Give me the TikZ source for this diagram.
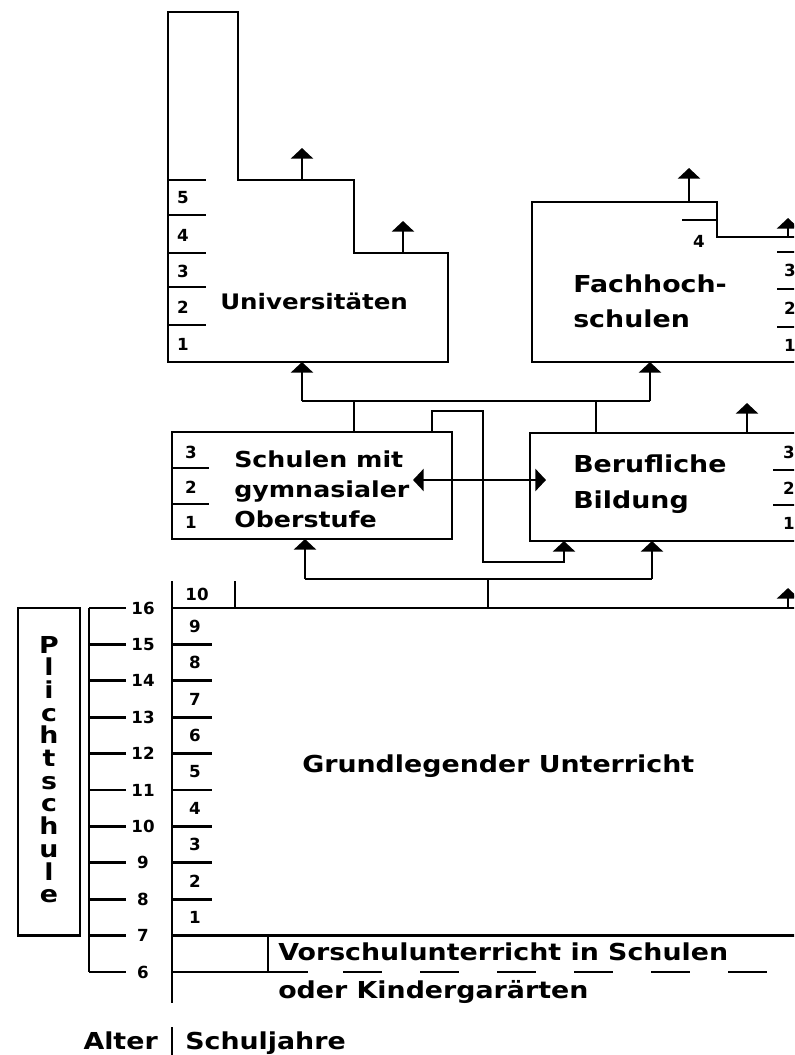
\documentclass[tikz,border=0pt]{standalone}
\usepackage{fontspec}
\newfontfamily\vb{DejaVu Sans Bold}[FakeStretch=1.15]
\newfontfamily\vd{DejaVu Sans Bold}
\usetikzlibrary{arrows.meta}
\begin{document}
\begin{tikzpicture}[x=0.75pt,y=-0.75pt,
  ln/.style={line width=2.2pt},
  arr/.style={line width=2.2pt,-{Triangle[width=16.5pt,length=8pt]}},
  dbl/.style={line width=2.2pt,{Triangle[width=16.5pt,length=8pt]}-{Triangle[width=16.5pt,length=8pt]}},
  lbl/.style={font=\vb\fontsize{17.5}{21}\selectfont,inner sep=0pt,anchor=base west},
  lbls/.style={font=\vb\fontsize{16.5}{20}\selectfont,inner sep=0pt,anchor=base west},
  num/.style={font=\vd\fontsize{12.5}{14}\selectfont,inner sep=0pt},
]
\useasboundingbox (0,0) rectangle (794,1055);
\clip (0,0) rectangle (794,1055);
\fill[white] (0,0) rectangle (794,1055);

% ---------- Universitaeten ----------
\draw[ln] (168,362) -- (168,12) -- (238,12) -- (238,180) -- (354,180) -- (354,253) -- (448,253) -- (448,362) -- cycle;
\foreach \y in {180,215,253,287,325} \draw[ln] (168,\y) -- (206,\y);
\foreach \n/\y in {5/198,4/235,3/271,2/307,1/344} \node[num] (u\n) at (183,\y) {\n};
\node[lbl,font=\vb\fontsize{16}{19}\selectfont] (uni) at (220,310) {Universitäten};
\coordinate (ua1) at (302,180); \coordinate (ua1t) at (302,148);
\coordinate (ua2) at (403,253); \coordinate (ua2t) at (403,221);
\draw[arr] (ua1) -- (ua1t);
\draw[arr] (ua2) -- (ua2t);

% ---------- Fachhochschulen ----------
\draw[ln] (800,237) -- (717,237) -- (717,202) -- (532,202) -- (532,362) -- (800,362);
\draw[ln] (682,220) -- (717,220);
\node[num] (f4) at (699,241) {4};
\foreach \y in {252,289,327} \draw[ln] (777,\y) -- (800,\y);
\foreach \n/\y in {3/270,2/308,1/345} \node[num] (f\n) at (790,\y) {\n};
\node[lbl] (fh1) at (573,292) {Fachhoch-};
\node[lbl] (fh2) at (573,327) {schulen};
\coordinate (fa1) at (689,202); \coordinate (fa1t) at (689,168);
\coordinate (fa2) at (788,237); \coordinate (fa2t) at (788,218);
\draw[arr] (fa1) -- (fa1t);
\draw[arr] (fa2) -- (fa2t);

% ---------- upper connector ----------
\coordinate (h1) at (302,401); \coordinate (h2) at (650,401);
\coordinate (ub) at (302,362); \coordinate (fb) at (650,362);
\draw[ln] (h1) -- (h2);
\draw[arr] (h1) -- (ub);
\draw[arr] (h2) -- (fb);
\draw[ln] (354,401) -- (354,432);
\draw[ln] (596,401) -- (596,433);

% ---------- Schulen mit gymnasialer Oberstufe ----------
\draw[ln] (172,432) rectangle (452,539);
\foreach \y in {468,504} \draw[ln] (172,\y) -- (209,\y);
\foreach \n/\y in {3/452,2/487,1/522} \node[num] (s\n) at (191,\y) {\n};
\node[lbls] (s1t) at (234,467) {Schulen mit};
\node[lbls] (s2t) at (234,497) {gymnasialer};
\node[lbls] (s3t) at (234,527) {Oberstufe};

% ---------- Berufliche Bildung ----------
\draw[ln] (800,433) -- (530,433) -- (530,541) -- (800,541);
\foreach \y in {470,505} \draw[ln] (773,\y) -- (800,\y);
\foreach \n/\y in {3/452,2/488,1/523} \node[num] (b\n) at (789,\y) {\n};
\node[lbl] (b1t) at (573,472) {Berufliche};
\node[lbl] (b2t) at (573,508) {Bildung};
\coordinate (ba) at (747,433); \coordinate (bat) at (747,403);
\draw[arr] (ba) -- (bat);

% ---------- middle connectors ----------
\draw[arr] (432,432) -- (432,411) -- (483,411) -- (483,562) -- (564,562) -- (564,541);
\coordinate (dl) at (413,480); \coordinate (dr) at (546,480);
\draw[dbl] (dl) -- (dr);
\coordinate (m1) at (305,579); \coordinate (m2) at (652,579);
\draw[ln] (m1) -- (m2);
\draw[arr] (m1) -- (305,539);
\draw[arr] (m2) -- (652,541);
\draw[ln] (488,579) -- (488,608);

% ---------- school years ----------
\draw[ln] (172,581) -- (172,1003);
\draw[ln] (235,581) -- (235,608);
\draw[ln] (172,608) -- (800,608);
\draw[arr] (788,608) -- (788,588);
\node[num] (y10) at (197,594) {10};
\foreach \k in {1,...,8} \draw[ln] (172,{608+36.4*\k}) -- (212,{608+36.4*\k});
\foreach \n in {1,...,9} \node[num] (y\n) at (195,{608+36.4*(9-\n)+18.2}) {\n};
\draw[ln] (172,935.6) -- (800,935.6);
\node[lbl] (gu) at (302,772) {Grundlegender Unterricht};

% ---------- Vorschule ----------
\draw[ln] (268,935.6) -- (268,972);
\draw[ln] (172,972) -- (308,972);
\draw[line width=2.2pt,dash pattern=on 29.25pt off 28.5pt] (343,972) -- (767,972);
\node[lbl] (vs1) at (278,960) {Vorschulunterricht in Schulen};
\node[lbl] (vs2) at (278,998) {oder Kindergarärten};

% ---------- ages ----------
\draw[ln] (89,608) -- (89,972);
\foreach \a in {6,...,16} {
  \draw[ln] (89,{608+36.4*(16-\a)}) -- (126,{608+36.4*(16-\a)});
  \node[num] (a\a) at (143,{608+36.4*(16-\a)}) {\a};
}

% ---------- Pflichtschule ----------
\draw[ln] (18,608) rectangle (80,935.6);
\foreach \c [count=\i from 0] in {P,l,i,c,h,t,s,c,h,u,l,e}
  \node[font=\vb\fontsize{17.5}{21}\selectfont,inner sep=0pt,anchor=base] (p\i) at (49,{653+22.7*\i}) {\c};

% ---------- footer ----------
\node[lbl,anchor=base east] (alter) at (158,1049) {Alter};
\draw[ln] (172,1027) -- (172,1055);
\node[lbl] (sj) at (185,1049) {Schuljahre};
\end{tikzpicture}
\end{document}
